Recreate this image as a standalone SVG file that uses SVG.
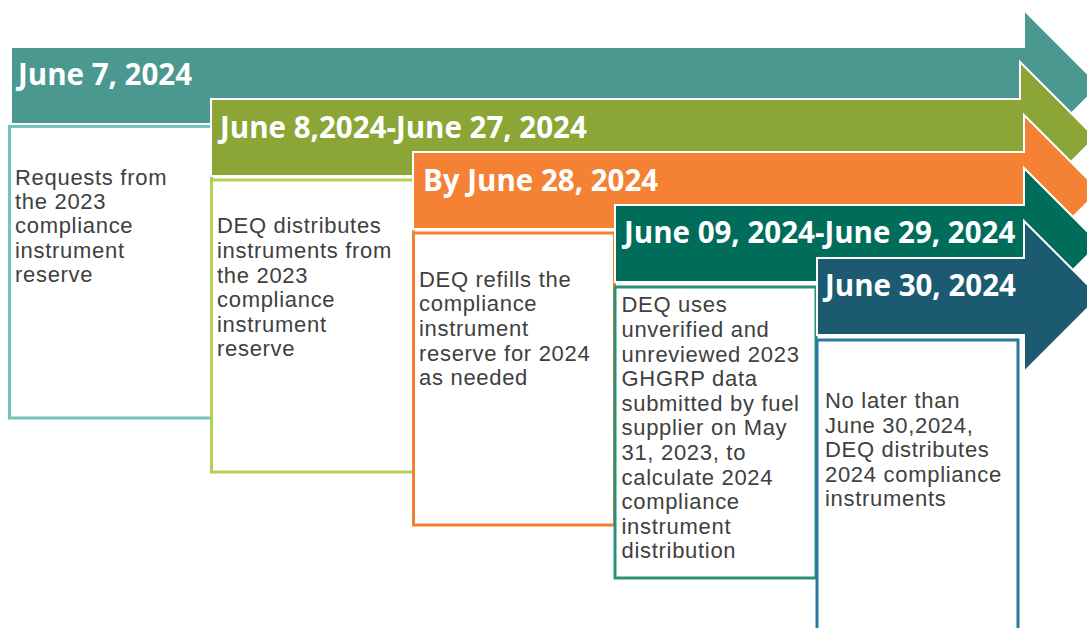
<svg xmlns="http://www.w3.org/2000/svg" width="1087" height="628" viewBox="0 0 1087 628">
  <style>
    .arrow { stroke: #ffffff; stroke-width: 2; stroke-linejoin: miter; }
    .box { fill: #ffffff; stroke-width: 3; }
    .head { font-family: "Open Sans", "Liberation Sans", sans-serif; font-weight: 700; font-size: 29.5px; fill: #ffffff; }
    .body { font-family: "Liberation Sans", Arial, sans-serif; font-size: 22px; letter-spacing: 0.7px; fill: #404040; }
  </style>
  <rect width="1087" height="628" fill="#ffffff"/>

  <!-- Step 1 -->
  <g id="step1">
    <polygon class="arrow" fill="#4A9890" points="11,47 1024,47 1024,10 1099.5,85.5 1024,161 1024,124 11,124"/>
    <rect class="box" stroke="#73C4BC" x="9.5" y="126.5" width="202" height="291.5"/>
    <text class="head" x="18" y="85">June 7, 2024</text>
    <text class="body">
      <tspan x="15" y="184.5">Requests from</tspan>
      <tspan x="15" y="208.9">the 2023</tspan>
      <tspan x="15" y="233.3">compliance</tspan>
      <tspan x="15" y="257.7">instrument</tspan>
      <tspan x="15" y="282.1">reserve</tspan>
    </text>
  </g>

  <!-- Step 2 -->
  <g id="step2">
    <polygon class="arrow" fill="#8CA537" points="211,99 1020,99 1020,62 1095.5,137.5 1020,213 1020,176 211,176"/>
    <rect class="box" stroke="#B3CF5A" x="211.5" y="180" width="202" height="292"/>
    <text class="head" x="220" y="137.5">June 8,2024-June 27, 2024</text>
    <text class="body">
      <tspan x="217" y="233.3">DEQ distributes</tspan>
      <tspan x="217" y="257.9">instruments from</tspan>
      <tspan x="217" y="282.5">the 2023</tspan>
      <tspan x="217" y="307.1">compliance</tspan>
      <tspan x="217" y="331.7">instrument</tspan>
      <tspan x="217" y="356.3">reserve</tspan>
    </text>
  </g>

  <!-- Step 3 -->
  <g id="step3">
    <polygon class="arrow" fill="#F48134" points="413,152 1024,152 1024,115 1099.5,190.5 1024,266 1024,229 413,229"/>
    <rect class="box" stroke="#F2812F" x="413.5" y="233" width="201" height="292"/>
    <text class="head" x="423" y="190.7">By June 28, 2024</text>
    <text class="body">
      <tspan x="419" y="286.7">DEQ refills the</tspan>
      <tspan x="419" y="311.3">compliance</tspan>
      <tspan x="419" y="335.9">instrument</tspan>
      <tspan x="419" y="360.5">reserve for 2024</tspan>
      <tspan x="419" y="385.1">as needed</tspan>
    </text>
  </g>

  <!-- Step 4 -->
  <g id="step4">
    <polygon class="arrow" fill="#006D5B" points="615,205 1024,205 1024,168 1099.5,243.5 1024,319 1024,282 615,282"/>
    <rect class="box" stroke="#2A9179" x="615" y="287" width="201" height="291"/>
    <text class="head" x="624" y="243.3">June 09, 2024-June 29, 2024</text>
    <text class="body">
      <tspan x="621.5" y="312.3">DEQ uses</tspan>
      <tspan x="621.5" y="336.9">unverified and</tspan>
      <tspan x="621.5" y="361.5">unreviewed 2023</tspan>
      <tspan x="621.5" y="386.1">GHGRP data</tspan>
      <tspan x="621.5" y="410.7">submitted by fuel</tspan>
      <tspan x="621.5" y="435.3">supplier on May</tspan>
      <tspan x="621.5" y="459.9">31, 2023, to</tspan>
      <tspan x="621.5" y="484.5">calculate 2024</tspan>
      <tspan x="621.5" y="509.1">compliance</tspan>
      <tspan x="621.5" y="533.7">instrument</tspan>
      <tspan x="621.5" y="558.3">distribution</tspan>
    </text>
  </g>

  <!-- Step 5 -->
  <g id="step5">
    <polygon class="arrow" fill="#1C5A72" points="817,258 1024,258 1024,221 1099.5,296.5 1024,372 1024,335 817,335"/>
    <rect class="box" stroke="#2A7AA0" x="817" y="340" width="201" height="300"/>
    <text class="head" x="825" y="296">June 30, 2024</text>
    <text class="body">
      <tspan x="825" y="408.3">No later than</tspan>
      <tspan x="825" y="432.7">June 30,2024,</tspan>
      <tspan x="825" y="457.1">DEQ distributes</tspan>
      <tspan x="825" y="481.5">2024 compliance</tspan>
      <tspan x="825" y="505.9">instruments</tspan>
    </text>
  </g>

  <g id="connectors"/>
</svg>
